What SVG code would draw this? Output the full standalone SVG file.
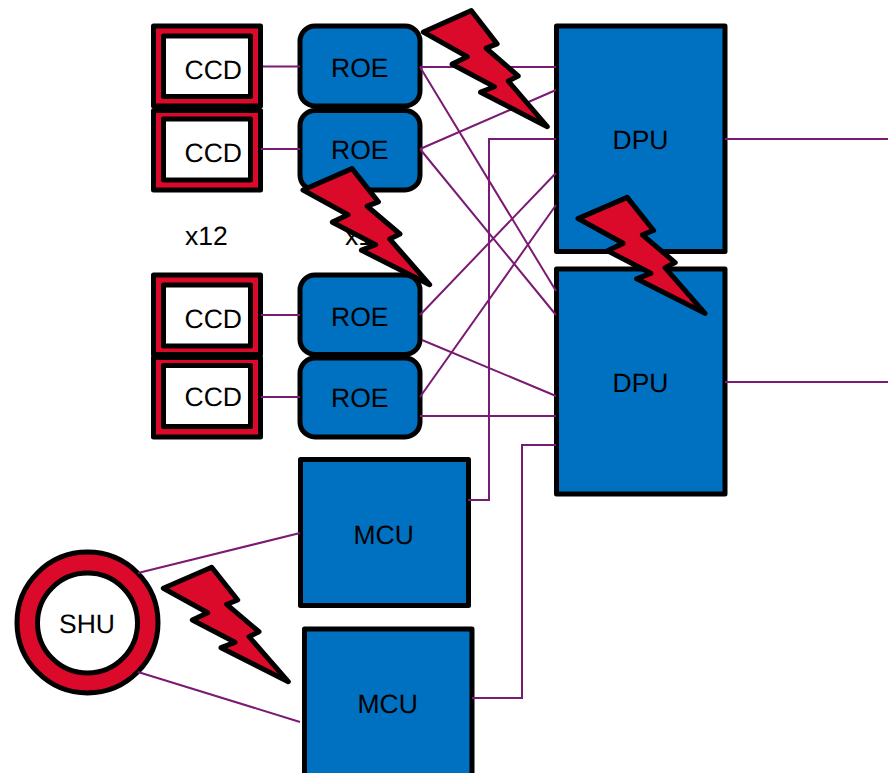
<svg xmlns="http://www.w3.org/2000/svg" xmlns:xlink="http://www.w3.org/1999/xlink" width="888" height="773" viewBox="0 0 888 773">
<style>
text{font-family:"Liberation Sans",Arial,sans-serif;font-size:26.500px;fill:#000;text-rendering:geometricPrecision}
.k{stroke:#000;stroke-width:5;stroke-linejoin:round}
.b{fill:#0070c0}.r{fill:#dc0a2a}.w{fill:#fff}
.c{fill:none;stroke:#7a1a73;stroke-width:2}
.bolt{fill:#dc0a2a;stroke:#000;stroke-width:5;stroke-linejoin:round}
</style>
<defs>
<polygon id="boltShape" class="bolt" points="0,21 48.400,0 74.400,32.700 63.400,37 95.700,64.400 85.700,69.400 125,114.400 57.700,80.400 71.700,75 29,52.700 44.400,45.400"/>
</defs>
<rect width="888" height="773" fill="#fff"/>
<g id="ccd1"><rect class="k r" x="153.500" y="26" width="107" height="80"/><rect class="k w" x="163.500" y="36" width="87" height="60.500"/><text x="184.500" y="79">CCD</text></g>
<g id="ccd2"><rect class="k r" x="153.500" y="110.500" width="107" height="79.500"/><rect class="k w" x="163.500" y="119" width="87" height="61"/><text x="184.500" y="162">CCD</text></g>
<g id="ccd3"><rect class="k r" x="153.500" y="275" width="107" height="79.500"/><rect class="k w" x="163.500" y="285" width="87" height="61"/><text x="184.500" y="328">CCD</text></g>
<g id="ccd4"><rect class="k r" x="153.500" y="357.500" width="107" height="79.500"/><rect class="k w" x="163.500" y="365.500" width="87" height="61"/><text x="184.500" y="406">CCD</text></g>
<g id="roe1"><rect class="k b" x="300" y="26" width="120" height="80" rx="15"/><text x="331" y="76.500">ROE</text></g>
<g id="roe2"><rect class="k b" x="300" y="110.500" width="120" height="79.500" rx="15"/><text x="331" y="159">ROE</text></g>
<g id="roe3"><rect class="k b" x="300" y="275" width="120" height="79.500" rx="15"/><text x="331" y="325.500">ROE</text></g>
<g id="roe4"><rect class="k b" x="300" y="358" width="120" height="79" rx="15"/><text x="331" y="406.500">ROE</text></g>
<g id="dpu1"><rect class="k b" x="556.500" y="26" width="168.500" height="225.500"/><text x="612.500" y="149">DPU</text></g>
<g id="dpu2"><rect class="k b" x="556.500" y="269" width="168.500" height="225"/><text x="612.500" y="392">DPU</text></g>
<g id="mcu1"><rect class="k b" x="300.500" y="459.500" width="168" height="146"/><text x="353.500" y="543.500">MCU</text></g>
<g id="mcu2"><rect class="k b" x="304.500" y="629" width="167.500" height="150"/><text x="357.500" y="712.500">MCU</text></g>
<g id="shu"><circle class="k r" cx="87.500" cy="622.500" r="70.500"/><circle class="k w" cx="87.500" cy="623" r="50"/><text x="59" y="633">SHU</text></g>
<text x="185" y="245">x12</text>
<text x="345" y="245">x12</text>
<g id="connectors">
<path class="c" d="M263 66.500H300M261 149H300M261 315H300M261 397H300"/>
<path class="c" d="M420 67H556M420 67L556 291M420 149L556 90M420 149L556 315M420 315L556 173M422 340L556 396M420 397L556 205M420 416H556"/>
<path class="c" d="M468 500H489V139H556M472 698H522V445H556"/>
<path class="c" d="M725 139H888M725 382H888M138 573L300 533M138 672L300 722"/>
</g>
<g id="bolts">
<use id="bolt1" xlink:href="#boltShape" href="#boltShape" transform="translate(423.300 10.700) scale(.992 1.014)"/>
<use id="bolt2" xlink:href="#boltShape" href="#boltShape" transform="translate(303 168.700) scale(1.013 1.014)"/>
<use id="bolt3" xlink:href="#boltShape" href="#boltShape" transform="translate(578 197.300) scale(1.016 1.014)"/>
<use id="bolt4" xlink:href="#boltShape" href="#boltShape" transform="translate(163.300 567.300)"/>
</g>
</svg>
